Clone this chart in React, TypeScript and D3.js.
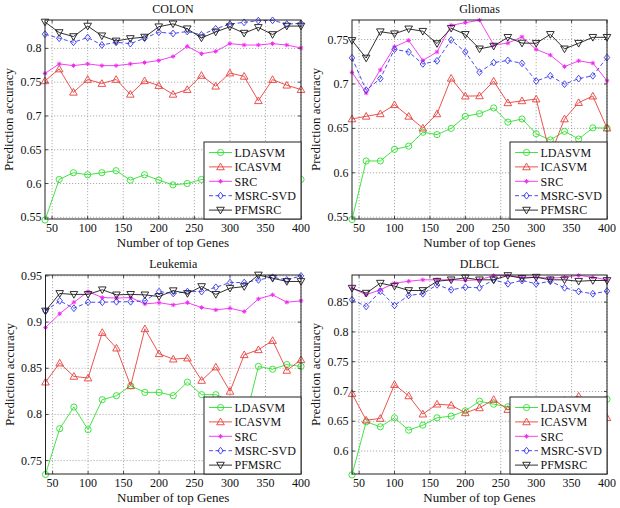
import React from "react";
import * as d3 from "d3";

const GENES = [40, 60, 80, 100, 120, 140, 160, 180, 200, 220, 240, 260, 280, 300, 320, 340, 360, 380, 400];
const X_TICKS = [50, 100, 150, 200, 250, 300, 350, 400];
const SERIES_NAMES = ["LDASVM", "ICASVM", "SRC", "MSRC-SVD", "PFMSRC"];

// COLON
const colonLDASVM = [0.546, 0.606, 0.616, 0.613, 0.616, 0.619, 0.605, 0.613, 0.605, 0.598, 0.6, 0.606, 0.606, 0.609, 0.606, 0.609, 0.606, 0.606, 0.606];
const colonICASVM = [0.752, 0.7695, 0.735, 0.754, 0.748, 0.754, 0.732, 0.752, 0.745, 0.732, 0.739, 0.76, 0.744, 0.7635, 0.7586, 0.7225, 0.7538, 0.7455, 0.739];
const colonSRC = [0.763, 0.777, 0.7745, 0.777, 0.7745, 0.7745, 0.777, 0.779, 0.782, 0.788, 0.803, 0.792, 0.7956, 0.807, 0.805, 0.805, 0.807, 0.805, 0.8006];
const colonMSRCSVD = [0.821, 0.815, 0.809, 0.816, 0.805, 0.809, 0.807, 0.815, 0.824, 0.822, 0.825, 0.82, 0.829, 0.836, 0.8385, 0.841, 0.8415, 0.836, 0.837];
const colonPFMSRC = [0.839, 0.8234, 0.8175, 0.833, 0.8186, 0.811, 0.8146, 0.8167, 0.832, 0.8363, 0.829, 0.8155, 0.8243, 0.832, 0.8225, 0.831, 0.8205, 0.833, 0.833];
const colonTicks = [0.55, 0.6, 0.65, 0.7, 0.75, 0.8];

// Gliomas
const gliomasLDASVM = [0.5474, 0.6133, 0.6133, 0.6264, 0.63, 0.6457, 0.643, 0.65, 0.6636, 0.6666, 0.673, 0.657, 0.6606, 0.644, 0.637, 0.6467, 0.638, 0.6506, 0.6503];
const gliomasICASVM = [0.6606, 0.6636, 0.6664, 0.6766, 0.6636, 0.6503, 0.6663, 0.7064, 0.6863, 0.6866, 0.7032, 0.6788, 0.681, 0.683, 0.62, 0.6606, 0.679, 0.6863, 0.6503];
const gliomasSRC = [0.713, 0.6898, 0.7158, 0.7418, 0.749, 0.7265, 0.736, 0.766, 0.769, 0.7718, 0.744, 0.746, 0.753, 0.7389, 0.7325, 0.7195, 0.726, 0.7235, 0.7036];
const gliomasMSRCSVD = [0.7294, 0.693, 0.706, 0.7391, 0.736, 0.7225, 0.726, 0.7495, 0.736, 0.7133, 0.724, 0.7265, 0.7232, 0.7032, 0.7092, 0.6998, 0.706, 0.7092, 0.7297];
const gliomasPFMSRC = [0.749, 0.7292, 0.7588, 0.7565, 0.762, 0.7593, 0.7455, 0.7627, 0.7558, 0.7395, 0.7426, 0.7525, 0.746, 0.7458, 0.7558, 0.7395, 0.7458, 0.7525, 0.7525];
const gliomasTicks = [0.55, 0.6, 0.65, 0.7, 0.75];

// Leukemia
const leukemiaLDASVM = [0.735, 0.7846, 0.808, 0.7835, 0.816, 0.8203, 0.831, 0.8239, 0.8239, 0.8203, 0.835, 0.8214, 0.8214, 0.815, 0.79, 0.852, 0.849, 0.854, 0.852];
const leukemiaICASVM = [0.835, 0.8556, 0.8412, 0.8394, 0.8887, 0.8718, 0.831, 0.8927, 0.8657, 0.8599, 0.861, 0.8368, 0.8513, 0.825, 0.8646, 0.87, 0.88, 0.8477, 0.8592];
const leukemiaSRC = [0.894, 0.909, 0.9215, 0.933, 0.9266, 0.926, 0.9266, 0.9197, 0.921, 0.9186, 0.921, 0.9158, 0.9132, 0.915, 0.9114, 0.9251, 0.9295, 0.9215, 0.923];
const leukemiaMSRCSVD = [0.912, 0.923, 0.915, 0.9215, 0.9215, 0.922, 0.922, 0.923, 0.933, 0.931, 0.933, 0.933, 0.9377, 0.9428, 0.9428, 0.9457, 0.9486, 0.9457, 0.95];
const leukemiaPFMSRC = [0.912, 0.931, 0.93, 0.93, 0.935, 0.9295, 0.93, 0.9295, 0.9277, 0.934, 0.931, 0.9385, 0.93, 0.9367, 0.9385, 0.951, 0.9475, 0.944, 0.944];
const leukemiaTicks = [0.75, 0.8, 0.85, 0.9, 0.95];

// DLBCL
const dlbclLDASVM = [0.56, 0.6491, 0.6407, 0.6558, 0.6351, 0.6435, 0.6558, 0.6586, 0.6675, 0.6837, 0.6787, 0.6742, 0.672, 0.675, 0.68, 0.678, 0.682, 0.685, 0.687];
const dlbclICASVM = [0.6965, 0.6519, 0.6547, 0.7116, 0.6926, 0.662, 0.6787, 0.677, 0.6642, 0.6725, 0.6865, 0.6697, 0.675, 0.68, 0.672, 0.685, 0.692, 0.665, 0.656];
const dlbclSRC = [0.8734, 0.8623, 0.8706, 0.8818, 0.885, 0.8874, 0.8874, 0.8874, 0.8863, 0.8874, 0.8946, 0.8946, 0.8918, 0.8918, 0.89, 0.8918, 0.8948, 0.8918, 0.8874];
const dlbclMSRCSVD = [0.8539, 0.8427, 0.8684, 0.8444, 0.8612, 0.864, 0.879, 0.8706, 0.875, 0.874, 0.8874, 0.8807, 0.8863, 0.8807, 0.885, 0.874, 0.8679, 0.864, 0.8684];
const dlbclPFMSRC = [0.8734, 0.865, 0.8818, 0.8768, 0.8695, 0.8695, 0.885, 0.8874, 0.8907, 0.8874, 0.8874, 0.8946, 0.89, 0.8918, 0.8874, 0.8874, 0.885, 0.8863, 0.8863];
const dlbclTicks = [0.6, 0.65, 0.7, 0.75, 0.8, 0.85];

const COLORS = ["#2fe02f", "#e8403c", "#f02cf0", "#3535ee", "#1a1a1a"];
const MARKERS = ["circle", "triUp", "star", "diamond", "triDown"];
const DASHES = [null, null, null, "4,2.5", null];
const TXT: React.CSSProperties = { fontFamily: "Liberation Serif, serif" };

function Marker({ type, x, y, color }: { type: string; x: number; y: number; color: string }) {
  const sw = 0.9;
  if (type === "circle") return <circle cx={x} cy={y} r={3.1} fill="none" stroke={color} strokeWidth={sw} />;
  if (type === "triUp") {
    const s = 3.8;
    return <path d={`M${x},${y - s}L${x + s},${y + s * 0.75}L${x - s},${y + s * 0.75}Z`} fill="none" stroke={color} strokeWidth={sw} />;
  }
  if (type === "triDown") {
    const s = 3.8;
    return <path d={`M${x},${y + s}L${x + s},${y - s * 0.75}L${x - s},${y - s * 0.75}Z`} fill="none" stroke={color} strokeWidth={sw} />;
  }
  if (type === "diamond") {
    const s = 3.4;
    return <path d={`M${x},${y - s}L${x + s * 0.8},${y}L${x},${y + s}L${x - s * 0.8},${y}Z`} fill="none" stroke={color} strokeWidth={sw} />;
  }
  const s = 2.2;
  return (
    <path
      d={`M${x - s},${y}L${x + s},${y}M${x},${y - s}L${x},${y + s}M${x - s * 0.7},${y - s * 0.7}L${x + s * 0.7},${y + s * 0.7}M${x - s * 0.7},${y + s * 0.7}L${x + s * 0.7},${y - s * 0.7}`}
      stroke={color}
      strokeWidth={1}
    />
  );
}

type PanelProps = {
  title: string;
  left: number;
  right: number;
  top: number;
  bottom: number;
  yDomain: [number, number];
  yTicks: number[];
  series: number[][];
};

function Panel({ title, left, right, top, bottom, yDomain, yTicks, series }: PanelProps) {
  const x = d3.scaleLinear().domain([40, 400]).range([left, right]);
  const y = d3.scaleLinear().domain(yDomain).range([bottom, top]);
  const line = d3
    .line<number>()
    .x((_, i) => x(GENES[i]))
    .y((v) => y(v));
  const tl = 3;
  const legW = 97;
  const legH = 77;
  const legX = right - legW;
  const legY = bottom - legH;
  const cx = (left + right) / 2;
  const cy = (top + bottom) / 2;
  return (
    <g>
      {X_TICKS.map((t) => (
        <line key={"gx" + t} x1={x(t)} x2={x(t)} y1={top} y2={bottom} stroke="#8a8a8a" strokeWidth={0.7} strokeDasharray="1.2,1.8" />
      ))}
      {yTicks.map((t) => (
        <line key={"gy" + t} x1={left} x2={right} y1={y(t)} y2={y(t)} stroke="#8a8a8a" strokeWidth={0.7} strokeDasharray="1.2,1.8" />
      ))}
      {X_TICKS.map((t) => (
        <g key={"tx" + t}>
          <line x1={x(t)} x2={x(t)} y1={bottom} y2={bottom - tl} stroke="#222" strokeWidth={0.8} />
          <line x1={x(t)} x2={x(t)} y1={top} y2={top + tl} stroke="#222" strokeWidth={0.8} />
          <text x={x(t)} y={bottom + 12.5} textAnchor="middle" fontSize={12} style={TXT} fill="#111">
            {t}
          </text>
        </g>
      ))}
      {yTicks.map((t) => (
        <g key={"ty" + t}>
          <line x1={left} x2={left + tl} y1={y(t)} y2={y(t)} stroke="#222" strokeWidth={0.8} />
          <line x1={right} x2={right - tl} y1={y(t)} y2={y(t)} stroke="#222" strokeWidth={0.8} />
          <text x={left - 3.5} y={y(t) + 4} textAnchor="end" fontSize={12} style={TXT} fill="#111">
            {d3.format("~g")(t)}
          </text>
        </g>
      ))}
      {series.map((vals, si) => (
        <g key={"s" + si}>
          <path d={line(vals) || ""} fill="none" stroke={COLORS[si]} strokeWidth={0.9} strokeDasharray={DASHES[si] || undefined} />
          {vals.map((v, i) => (
            <Marker key={i} type={MARKERS[si]} x={x(GENES[i])} y={y(v)} color={COLORS[si]} />
          ))}
        </g>
      ))}
      <rect x={left} y={top} width={right - left} height={bottom - top} fill="none" stroke="#222" strokeWidth={1} />
      <rect x={legX} y={legY} width={legW} height={legH} fill="#fff" stroke="#222" strokeWidth={1} />
      {SERIES_NAMES.map((name, si) => {
        const ly = legY + 10.5 + si * 14.4;
        return (
          <g key={"l" + name}>
            <line x1={legX + 5} x2={legX + 28} y1={ly} y2={ly} stroke={COLORS[si]} strokeWidth={0.9} strokeDasharray={DASHES[si] || undefined} />
            <Marker type={MARKERS[si]} x={legX + 16.5} y={ly} color={COLORS[si]} />
            <text x={legX + 30.5} y={ly + 4.2} fontSize={12} style={TXT} fill="#111">
              {name}
            </text>
          </g>
        );
      })}
      <text x={cx} y={top - 7.5} textAnchor="middle" fontSize={12} style={TXT} fill="#111">
        {title}
      </text>
      <text x={cx} y={bottom + 27.5} textAnchor="middle" fontSize={13} style={TXT} fill="#111">
        Number of top Genes
      </text>
      <text transform={`translate(${left - 32},${cy}) rotate(-90)`} textAnchor="middle" fontSize={13} style={TXT} fill="#111">
        Prediction accuracy
      </text>
    </g>
  );
}

export default function App() {
  return (
    <svg width={620} height={508} style={{ position: "absolute", left: 0, top: 0, background: "#fff" }}>
      <rect width={620} height={508} fill="#fff" />
      <Panel
        title="COLON"
        left={45}
        right={301}
        top={20}
        bottom={219}
        yDomain={[0.5475, 0.842]}
        yTicks={colonTicks}
        series={[colonLDASVM, colonICASVM, colonSRC, colonMSRCSVD, colonPFMSRC]}
      />
      <Panel
        title="Gliomas"
        left={352}
        right={607}
        top={20}
        bottom={219}
        yDomain={[0.548, 0.772]}
        yTicks={gliomasTicks}
        series={[gliomasLDASVM, gliomasICASVM, gliomasSRC, gliomasMSRCSVD, gliomasPFMSRC]}
      />
      <Panel
        title="Leukemia"
        left={45.5}
        right={301}
        top={275}
        bottom={474}
        yDomain={[0.7355, 0.951]}
        yTicks={leukemiaTicks}
        series={[leukemiaLDASVM, leukemiaICASVM, leukemiaSRC, leukemiaMSRCSVD, leukemiaPFMSRC]}
      />
      <Panel
        title="DLBCL"
        left={352}
        right={607}
        top={275}
        bottom={474}
        yDomain={[0.5615, 0.8955]}
        yTicks={dlbclTicks}
        series={[dlbclLDASVM, dlbclICASVM, dlbclSRC, dlbclMSRCSVD, dlbclPFMSRC]}
      />
    </svg>
  );
}
